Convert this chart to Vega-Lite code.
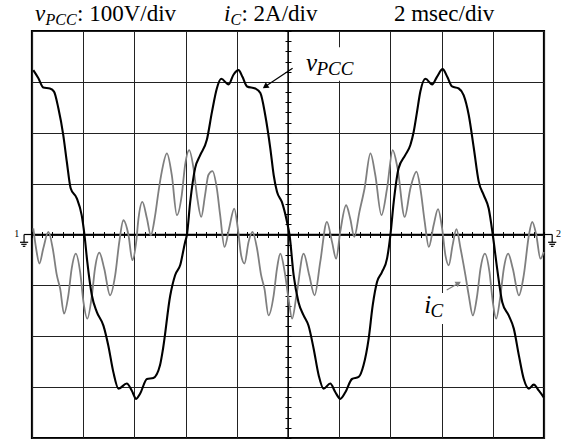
{
  "$schema": "https://vega.github.io/schema/vega-lite/v6.json",
  "width": 512,
  "height": 407,
  "autosize": "none",
  "padding": {"left": 32, "top": 31, "right": 17, "bottom": 3},
  "background": "white",
  "config": {
    "view": {"stroke": "#000", "strokeWidth": 2.2},
    "text": {"font": "Liberation Serif"}
  },
  "datasets": {
    "vpcc": [
      {"t":0.05,"v":323},{"t":0.25,"v":307},{"t":0.44,"v":289},{"t":0.70,"v":287},{"t":0.86,"v":281},{"t":1.03,"v":248},{"t":1.22,"v":196},{"t":1.36,"v":143},{"t":1.51,"v":91},{"t":1.75,"v":71},{"t":1.94,"v":38},{"t":2.05,"v":-1},{"t":2.16,"v":-54},{"t":2.34,"v":-120},{"t":2.53,"v":-152},{"t":2.79,"v":-179},{"t":2.98,"v":-218},{"t":3.18,"v":-271},{"t":3.38,"v":-303},{"t":3.70,"v":-293},{"t":3.90,"v":-307},{"t":4.07,"v":-323},{"t":4.22,"v":-313},{"t":4.49,"v":-284},{"t":4.74,"v":-282},{"t":5.0,"v":-257},{"t":5.12,"v":-224},{"t":5.40,"v":-120},{"t":5.59,"v":-80},{"t":5.79,"v":-60},{"t":5.98,"v":-15},{"t":6.05,"v":-1},{"t":6.18,"v":64},{"t":6.37,"v":130},{"t":6.57,"v":156},{"t":6.83,"v":186},{"t":7.03,"v":241},{"t":7.22,"v":287},{"t":7.39,"v":306},{"t":7.68,"v":295},{"t":7.87,"v":314},{"t":8.07,"v":323},{"t":8.22,"v":310},{"t":8.40,"v":291},{"t":8.72,"v":287},{"t":8.92,"v":278},{"t":9.11,"v":235},{"t":9.31,"v":169},{"t":9.44,"v":117},{"t":9.57,"v":84},{"t":9.76,"v":64},{"t":9.96,"v":25},{"t":10.06,"v":-1},{"t":10.22,"v":-80},{"t":10.41,"v":-133},{"t":10.61,"v":-159},{"t":10.80,"v":-179},{"t":11.0,"v":-224},{"t":11.20,"v":-277},{"t":11.39,"v":-303},{"t":11.65,"v":-293},{"t":11.85,"v":-310},{"t":12.04,"v":-323},{"t":12.24,"v":-310},{"t":12.50,"v":-284},{"t":12.76,"v":-280},{"t":12.95,"v":-257},{"t":13.15,"v":-205},{"t":13.31,"v":-139},{"t":13.48,"v":-93},{"t":13.67,"v":-74},{"t":13.87,"v":-47},{"t":14.0,"v":-1},{"t":14.13,"v":64},{"t":14.32,"v":130},{"t":14.58,"v":156},{"t":14.78,"v":176},{"t":14.91,"v":202},{"t":15.04,"v":241},{"t":15.17,"v":281},{"t":15.37,"v":306},{"t":15.63,"v":295},{"t":15.82,"v":310},{"t":16.04,"v":325},{"t":16.22,"v":310},{"t":16.41,"v":291},{"t":16.67,"v":287},{"t":16.86,"v":274},{"t":17.06,"v":235},{"t":17.26,"v":169},{"t":17.45,"v":104},{"t":17.65,"v":77},{"t":17.84,"v":51},{"t":18.0,"v":-1},{"t":18.17,"v":-67},{"t":18.37,"v":-133},{"t":18.62,"v":-159},{"t":18.82,"v":-185},{"t":19.02,"v":-238},{"t":19.21,"v":-284},{"t":19.41,"v":-303},{"t":19.60,"v":-295},{"t":19.80,"v":-307},{"t":19.99,"v":-320}
    ],
    "ic": [
      {"t":0.05,"i":0.24},{"t":0.16,"i":-0.55},{"t":0.29,"i":-1.14},{"t":0.44,"i":-0.55},{"t":0.64,"i":0.10},{"t":0.81,"i":-0.55},{"t":0.97,"i":-1.60},{"t":1.10,"i":-2.13},{"t":1.25,"i":-3.11},{"t":1.42,"i":-2.39},{"t":1.55,"i":-1.34},{"t":1.71,"i":-0.75},{"t":1.88,"i":-1.47},{"t":2.01,"i":-2.65},{"t":2.16,"i":-3.31},{"t":2.34,"i":-2.39},{"t":2.46,"i":-1.34},{"t":2.63,"i":-0.71},{"t":2.82,"i":-1.34},{"t":3.05,"i":-2.39},{"t":3.25,"i":-1.60},{"t":3.41,"i":-0.29},{"t":3.57,"i":0.56},{"t":3.77,"i":-0.03},{"t":3.92,"i":-1.01},{"t":4.07,"i":-0.29},{"t":4.16,"i":0.63},{"t":4.31,"i":1.28},{"t":4.49,"i":0.63},{"t":4.64,"i":-0.03},{"t":4.81,"i":0.75},{"t":4.94,"i":1.68},{"t":5.07,"i":2.47},{"t":5.27,"i":3.19},{"t":5.46,"i":2.34},{"t":5.66,"i":0.76},{"t":5.85,"i":1.55},{"t":5.98,"i":2.73},{"t":6.14,"i":3.32},{"t":6.31,"i":2.60},{"t":6.44,"i":1.55},{"t":6.61,"i":0.69},{"t":6.76,"i":1.55},{"t":6.89,"i":2.34},{"t":7.05,"i":2.49},{"t":7.22,"i":1.81},{"t":7.35,"i":0.76},{"t":7.52,"i":-0.49},{"t":7.70,"i":0.24},{"t":7.90,"i":1.02},{"t":8.04,"i":0.24},{"t":8.17,"i":-0.82},{"t":8.30,"i":-1.14},{"t":8.46,"i":-0.29},{"t":8.61,"i":0.10},{"t":8.79,"i":-0.55},{"t":8.95,"i":-1.60},{"t":9.08,"i":-2.13},{"t":9.24,"i":-3.18},{"t":9.44,"i":-2.39},{"t":9.57,"i":-1.34},{"t":9.70,"i":-0.75},{"t":9.87,"i":-1.47},{"t":10.02,"i":-2.52},{"t":10.16,"i":-3.31},{"t":10.35,"i":-2.26},{"t":10.61,"i":-0.75},{"t":10.83,"i":-1.60},{"t":11.04,"i":-2.39},{"t":11.26,"i":-1.08},{"t":11.52,"i":0.50},{"t":11.72,"i":-0.29},{"t":11.88,"i":-0.95},{"t":12.04,"i":0.10},{"t":12.27,"i":1.15},{"t":12.43,"i":0.63},{"t":12.59,"i":-0.09},{"t":12.79,"i":0.89},{"t":12.99,"i":1.81},{"t":13.22,"i":3.19},{"t":13.41,"i":2.34},{"t":13.65,"i":0.76},{"t":13.87,"i":1.81},{"t":14.09,"i":3.32},{"t":14.28,"i":2.60},{"t":14.56,"i":0.69},{"t":14.78,"i":1.81},{"t":15.02,"i":2.47},{"t":15.17,"i":1.81},{"t":15.34,"i":0.50},{"t":15.50,"i":-0.49},{"t":15.69,"i":0.37},{"t":15.86,"i":1.00},{"t":16.02,"i":0.24},{"t":16.15,"i":-0.82},{"t":16.28,"i":-1.21},{"t":16.43,"i":-0.42},{"t":16.58,"i":0.21},{"t":16.74,"i":-0.55},{"t":16.93,"i":-1.60},{"t":17.06,"i":-2.39},{"t":17.22,"i":-3.18},{"t":17.39,"i":-2.39},{"t":17.52,"i":-1.34},{"t":17.69,"i":-0.75},{"t":17.87,"i":-1.47},{"t":18.0,"i":-2.65},{"t":18.13,"i":-3.31},{"t":18.30,"i":-2.39},{"t":18.43,"i":-1.34},{"t":18.60,"i":-0.75},{"t":18.78,"i":-1.34},{"t":19.02,"i":-2.39},{"t":19.21,"i":-1.60},{"t":19.41,"i":-0.03},{"t":19.54,"i":0.50},{"t":19.70,"i":-0.03},{"t":19.86,"i":-0.95},{"t":19.99,"i":-0.69}
    ]
  },
  "layer": [
    {
      "data": {"values": [
        {"t": 10.39, "t2": 13.05, "v": 368, "v2": 302},
        {"t": 15.12, "t2": 16.37, "v": -115, "v2": -176}
      ]},
      "mark": {"type": "rect", "fill": "white"},
      "encoding": {
        "x": {"field": "t", "type": "quantitative", "scale": {"domain": [0, 20]}, "axis": null},
        "x2": {"field": "t2"},
        "y": {"field": "v", "type": "quantitative", "scale": {"domain": [-400, 400]}, "axis": null},
        "y2": {"field": "v2"}
      }
    },
    {
      "data": {"values": [{}]},
      "mark": {"type": "rule", "color": "#000", "strokeWidth": 1.3},
      "encoding": {
        "y": {"datum": 0, "type": "quantitative", "scale": {"domain": [-400, 400]}, "axis": null}
      }
    },
    {
      "data": {"values": [{}]},
      "mark": {"type": "rule", "color": "#000", "strokeWidth": 1.3},
      "encoding": {
        "x": {"datum": 10, "type": "quantitative", "axis": null}
      }
    },
    {
      "data": {"name": "ic"},
      "mark": {"type": "line", "color": "#7f7f7f", "strokeWidth": 1.8, "interpolate": "monotone"},
      "encoding": {
        "x": {"field": "t", "type": "quantitative", "title": "t (ms)",
          "axis": {"orient": "bottom", "offset": -206.5, "values": [0,0.4,0.8,1.2,1.6,2,2.4,2.8,3.2,3.6,4,4.4,4.8,5.2,5.6,6,6.4,6.8,7.2,7.6,8,8.4,8.8,9.2,9.6,10,10.4,10.8,11.2,11.6,12,12.4,12.8,13.2,13.6,14,14.4,14.8,15.2,15.6,16,16.4,16.8,17.2,17.6,18,18.4,18.8,19.2,19.6,20],
            "tickSize": 6, "tickColor": "#000", "tickWidth": 1, "labels": false, "domain": false, "grid": false, "title": null}},
        "y": {"field": "i", "type": "quantitative", "title": "iC (A)", "scale": {"domain": [-8, 8]},
          "axis": {"orient": "left", "offset": -259, "values": [-8,-7.6,-7.2,-6.8,-6.4,-6,-5.6,-5.2,-4.8,-4.4,-4,-3.6,-3.2,-2.8,-2.4,-2,-1.6,-1.2,-0.8,-0.4,0,0.4,0.8,1.2,1.6,2,2.4,2.8,3.2,3.6,4,4.4,4.8,5.2,5.6,6,6.4,6.8,7.2,7.6,8],
            "tickSize": 6, "tickColor": "#000", "tickWidth": 1, "labels": false, "domain": false, "grid": false, "title": null}}
      }
    },
    {
      "data": {"name": "vpcc"},
      "mark": {"type": "line", "color": "#000", "strokeWidth": 2.1, "interpolate": "monotone"},
      "encoding": {
        "x": {"field": "t", "type": "quantitative", "title": "t (ms)", "scale": {"domain": [0, 20]},
          "axis": {"orient": "top", "values": [0,2,4,6,8,10,12,14,16,18,20], "grid": true, "gridColor": "#222", "gridWidth": 1, "ticks": false, "labels": false, "domain": false, "title": null}},
        "y": {"field": "v", "type": "quantitative", "title": "vPCC (V)", "scale": {"domain": [-400, 400]},
          "axis": {"orient": "right", "values": [-400,-300,-200,-100,0,100,200,300,400], "grid": true, "gridColor": "#222", "gridWidth": 1, "ticks": false, "labels": false, "domain": false, "title": null}}
      }
    },
    {
      "data": {"values": [
        {"t": -0.31, "t2": 0, "v": 0, "v2": 0},
        {"t": -0.31, "t2": -0.31, "v": 0, "v2": -15.3},
        {"t": -0.47, "t2": -0.15, "v": -15.3, "v2": -15.3},
        {"t": -0.42, "t2": -0.21, "v": -19.3, "v2": -19.3},
        {"t": -0.36, "t2": -0.26, "v": -23.2, "v2": -23.2},
        {"t": 20, "t2": 20.32, "v": 0, "v2": 0},
        {"t": 20.32, "t2": 20.32, "v": 0, "v2": -15.3},
        {"t": 20.16, "t2": 20.48, "v": -15.3, "v2": -15.3},
        {"t": 20.21, "t2": 20.43, "v": -19.3, "v2": -19.3},
        {"t": 20.27, "t2": 20.37, "v": -23.2, "v2": -23.2},
        {"t": 10.18, "t2": 9.11, "v": 326.7, "v2": 290.7}
      ]},
      "mark": {"type": "rule", "color": "#000", "strokeWidth": 1.2},
      "encoding": {
        "x": {"field": "t", "type": "quantitative", "axis": null},
        "x2": {"field": "t2"},
        "y": {"field": "v", "type": "quantitative", "scale": {"domain": [-400, 400]}, "axis": null},
        "y2": {"field": "v2"}
      }
    },
    {
      "data": {"values": [{"t": 16.2, "t2": 16.66, "v": -109.1, "v2": -95.7}]},
      "mark": {"type": "rule", "color": "#7f7f7f", "strokeWidth": 1.2},
      "encoding": {
        "x": {"field": "t", "type": "quantitative", "axis": null},
        "x2": {"field": "t2"},
        "y": {"field": "v", "type": "quantitative", "scale": {"domain": [-400, 400]}, "axis": null},
        "y2": {"field": "v2"}
      }
    },
    {
      "data": {"values": [{"t": 9.11, "v": 290.7}]},
      "mark": {"type": "point", "shape": "triangle-up", "filled": true, "color": "#000", "size": 45, "angle": 236, "opacity": 1},
      "encoding": {
        "x": {"field": "t", "type": "quantitative", "axis": null},
        "y": {"field": "v", "type": "quantitative", "scale": {"domain": [-400, 400]}, "axis": null}
      }
    },
    {
      "data": {"values": [{"t": 16.66, "v": -95.7}]},
      "mark": {"type": "point", "shape": "triangle-up", "filled": true, "color": "#7f7f7f", "size": 40, "angle": 60, "opacity": 1},
      "encoding": {
        "x": {"field": "t", "type": "quantitative", "axis": null},
        "y": {"field": "v", "type": "quantitative", "scale": {"domain": [-400, 400]}, "axis": null}
      }
    },
    {
      "data": {"values": [
        {"t": 0.117, "v": 419.7, "text": "v"},
        {"t": 7.5, "v": 419.7, "text": "i"}
      ]},
      "mark": {"type": "text", "font": "Liberation Serif", "fontStyle": "italic", "fontSize": 23, "align": "left", "baseline": "alphabetic", "color": "#000"},
      "encoding": {
        "x": {"field": "t", "type": "quantitative", "axis": null},
        "y": {"field": "v", "type": "quantitative", "scale": {"domain": [-400, 400]}, "axis": null},
        "text": {"field": "text"}
      }
    },
    {
      "data": {"values": [
        {"t": 0.527, "v": 411.8, "text": "PCC"},
        {"t": 7.75, "v": 411.8, "text": "C"}
      ]},
      "mark": {"type": "text", "font": "Liberation Serif", "fontStyle": "italic", "fontSize": 16, "align": "left", "baseline": "alphabetic", "color": "#000"},
      "encoding": {
        "x": {"field": "t", "type": "quantitative", "axis": null},
        "y": {"field": "v", "type": "quantitative", "scale": {"domain": [-400, 400]}, "axis": null},
        "text": {"field": "text"}
      }
    },
    {
      "data": {"values": [
        {"t": 10.7, "v": 322, "text": "v"},
        {"t": 15.32, "v": -154.9, "text": "i"}
      ]},
      "mark": {"type": "text", "font": "Liberation Serif", "fontStyle": "italic", "fontSize": 25, "align": "left", "baseline": "alphabetic", "color": "#000"},
      "encoding": {
        "x": {"field": "t", "type": "quantitative", "axis": null},
        "y": {"field": "v", "type": "quantitative", "scale": {"domain": [-400, 400]}, "axis": null},
        "text": {"field": "text"}
      }
    },
    {
      "data": {"values": [
        {"t": 11.11, "v": 313.5, "text": "PCC"},
        {"t": 15.57, "v": -161.6, "text": "C"}
      ]},
      "mark": {"type": "text", "font": "Liberation Serif", "fontStyle": "italic", "fontSize": 19, "align": "left", "baseline": "alphabetic", "color": "#000"},
      "encoding": {
        "x": {"field": "t", "type": "quantitative", "axis": null},
        "y": {"field": "v", "type": "quantitative", "scale": {"domain": [-400, 400]}, "axis": null},
        "text": {"field": "text"}
      }
    },
    {
      "data": {"values": [
        {"t": 1.758, "v": 419.7, "text": ": 100V/div"},
        {"t": 8.18, "v": 419.7, "text": ": 2A/div"},
        {"t": 14.14, "v": 419.7, "text": "2 msec/div"}
      ]},
      "mark": {"type": "text", "font": "Liberation Serif", "fontSize": 23, "align": "left", "baseline": "alphabetic", "color": "#000"},
      "encoding": {
        "x": {"field": "t", "type": "quantitative", "axis": null},
        "y": {"field": "v", "type": "quantitative", "scale": {"domain": [-400, 400]}, "axis": null},
        "text": {"field": "text"}
      }
    },
    {
      "data": {"values": [
        {"t": -0.6, "v": -5.5, "text": "1"},
        {"t": 20.57, "v": -5.5, "text": "2"}
      ]},
      "mark": {"type": "text", "font": "Liberation Serif", "fontSize": 10, "align": "center", "baseline": "alphabetic", "color": "#000"},
      "encoding": {
        "x": {"field": "t", "type": "quantitative", "axis": null},
        "y": {"field": "v", "type": "quantitative", "scale": {"domain": [-400, 400]}, "axis": null},
        "text": {"field": "text"}
      }
    }
  ],
  "resolve": {"scale": {"y": "independent"}, "axis": {"x": "independent", "y": "independent"}}
}
